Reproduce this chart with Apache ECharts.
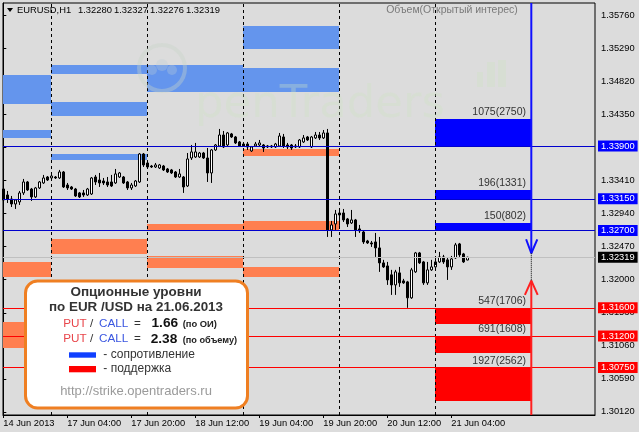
<!DOCTYPE html>
<html><head><meta charset="utf-8">
<script src="https://cdn.jsdelivr.net/npm/echarts@6/dist/echarts.min.js"></script>
<style>html,body{margin:0;padding:0;background:#dcdcdc}#c{width:639px;height:432px}</style>
</head><body><div id="c"></div>
<script>
// ---- Data: EURUSD H1, bar index 0 = 14 Jun 2013 12:00 ----
const opens = [1.33290,1.33205,1.33148,1.33077,1.33106,1.33234,1.33390,1.33290,1.33177,1.33305,
1.33376,1.33461,1.33447,1.33461,1.33447,1.33532,1.33347,1.33319,1.33290,1.33234,
1.33234,1.33205,1.33219,1.33461,1.33418,1.33404,1.33390,1.33390,1.33376,1.33461,
1.33461,1.33390,1.33305,1.33333,1.33390,1.33788,1.33660,1.33617,1.33603,1.33589,
1.33617,1.33575,1.33561,1.33532,1.33461,1.33461,1.33333,1.33731,1.33745,1.33745,
1.33802,1.33731,1.33518,1.33845,1.33902,1.34058,1.33916,1.34073,1.34030,1.33959,
1.33930,1.33930,1.33831,1.33902,1.33916,1.33916,1.33902,1.33902,1.33888,1.33902,
1.34030,1.33916,1.33916,1.33902,1.33888,1.33959,1.34030,1.33888,1.34016,1.34058,
1.34016,1.34087,1.32708,1.32793,1.32949,1.32949,1.32864,1.32807,1.32850,1.32722,
1.32679,1.32551,1.32523,1.32537,1.32452,1.32239,1.32196,1.32069,1.31926,1.32097,
1.31983,1.31969,1.31742,1.32111,1.32381,1.32253,1.31955,1.32140,1.32182,1.32253,
1.32324,1.32282,1.32182,1.32310,1.32509,1.32367,1.32280];
const closes = [1.33134,1.33148,1.33077,1.33134,1.33234,1.33390,1.33276,1.33177,1.33305,1.33390,
1.33447,1.33418,1.33475,1.33447,1.33532,1.33319,1.33305,1.33290,1.33191,1.33177,
1.33205,1.33290,1.33447,1.33390,1.33376,1.33376,1.33347,1.33333,1.33504,1.33518,
1.33376,1.33305,1.33347,1.33404,1.33788,1.33632,1.33603,1.33603,1.33632,1.33632,
1.33561,1.33532,1.33518,1.33461,1.33504,1.33319,1.33717,1.33817,1.33817,1.33802,
1.33731,1.33518,1.33845,1.33916,1.34058,1.33888,1.34087,1.34030,1.33945,1.33902,
1.33902,1.33888,1.33888,1.33930,1.33945,1.33873,1.33888,1.33888,1.33930,1.34044,
1.33902,1.33888,1.33873,1.33888,1.33987,1.34016,1.33987,1.34030,1.34058,1.34016,
1.34087,1.32708,1.32779,1.32935,1.32921,1.32850,1.32793,1.32850,1.32708,1.32694,
1.32537,1.32523,1.32509,1.32452,1.32239,1.32182,1.31997,1.31926,1.32111,1.31955,
1.31955,1.31742,1.32140,1.32381,1.32239,1.31955,1.32140,1.32182,1.32253,1.32324,
1.32253,1.32182,1.32296,1.32495,1.32353,1.32253,1.32319];
const lows = [1.33091,1.33091,1.33034,1.33006,1.33063,1.33205,1.33262,1.33120,1.33162,1.33290,
1.33362,1.33404,1.33433,1.33433,1.33433,1.33305,1.33276,1.33276,1.33177,1.33162,
1.33177,1.33191,1.33205,1.33347,1.33319,1.33347,1.33319,1.33319,1.33362,1.33447,
1.33362,1.33276,1.33276,1.33319,1.33376,1.33603,1.33589,1.33589,1.33589,1.33575,
1.33546,1.33518,1.33504,1.33447,1.33447,1.33234,1.33319,1.33703,1.33731,1.33731,
1.33717,1.33390,1.33376,1.33831,1.33888,1.33873,1.33902,1.34016,1.33930,1.33888,
1.33888,1.33845,1.33817,1.33888,1.33888,1.33817,1.33873,1.33873,1.33873,1.33888,
1.33873,1.33859,1.33845,1.33873,1.33873,1.33945,1.33973,1.33873,1.34001,1.33987,
1.34001,1.32608,1.32608,1.32708,1.32765,1.32821,1.32750,1.32793,1.32608,1.32665,
1.32509,1.32509,1.32466,1.32324,1.32111,1.32168,1.31926,1.31784,1.31784,1.31898,
1.31941,1.31600,1.31728,1.32097,1.32225,1.31926,1.31926,1.32125,1.32168,1.32239,
1.32225,1.31997,1.32140,1.32296,1.32324,1.32239,1.32276];
const highs = [1.33319,1.33262,1.33191,1.33148,1.33262,1.33433,1.33404,1.33305,1.33319,1.33404,
1.33490,1.33475,1.33490,1.33475,1.33561,1.33546,1.33376,1.33333,1.33305,1.33248,
1.33276,1.33305,1.33461,1.33490,1.33518,1.33447,1.33461,1.33490,1.33575,1.33532,
1.33475,1.33404,1.33376,1.33418,1.33802,1.33802,1.33674,1.33632,1.33660,1.33646,
1.33632,1.33589,1.33575,1.33546,1.33575,1.33475,1.33802,1.33916,1.33945,1.33817,
1.33817,1.33873,1.33859,1.33930,1.34144,1.34115,1.34101,1.34087,1.34044,1.33973,
1.33945,1.33959,1.33902,1.33959,1.33987,1.33930,1.33916,1.33916,1.33945,1.34087,
1.34073,1.33945,1.33930,1.33930,1.34001,1.34058,1.34044,1.34044,1.34101,1.34101,
1.34129,1.34144,1.32836,1.32992,1.32978,1.33006,1.32878,1.32992,1.32864,1.32779,
1.32694,1.32566,1.32551,1.32665,1.32608,1.32282,1.32253,1.32140,1.32140,1.32182,
1.32012,1.31983,1.32168,1.32395,1.32395,1.32267,1.32253,1.32282,1.32324,1.32395,
1.32353,1.32310,1.32338,1.32523,1.32523,1.32381,1.32327];

const xTickIdx = [0, 16, 32, 48, 64, 80, 96, 112];
const xTickLabels = ['14 Jun 2013','17 Jun 04:00','17 Jun 20:00','18 Jun 12:00','19 Jun 04:00','19 Jun 20:00','20 Jun 12:00','21 Jun 04:00'];
const daySeparators = [12, 36, 60, 84, 108];
const yTicks = [1.30120,1.30590,1.31060,1.31530,1.32000,1.32470,1.32940,1.33410,1.33880,1.34350,1.34820,1.35290,1.35760];

const X_MIN = -0.075, X_MAX = 147.925;
const Y_MIN = 1.30076, Y_MAX = 1.35935;

// previous days' option zones: [fromBar, toBar, low, high]
const pastResistanceZones = [
  [X_MIN, 12, 1.34503, 1.34911], [X_MIN, 12, 1.34020, 1.34129],
  [12, 36, 1.34930, 1.35053], [12, 36, 1.34332, 1.34527], [12, 36, 1.33703, 1.33788],
  [36, 60, 1.34665, 1.35053],
  [60, 84, 1.35285, 1.35608], [60, 84, 1.34665, 1.35006]
];
const pastSupportZones = [
  [X_MIN, 12, 1.32045, 1.32258], [X_MIN, 12, 1.31026, 1.31404],
  [12, 36, 1.32371, 1.32580],
  [36, 60, 1.32694, 1.32793], [36, 60, 1.32172, 1.32338],
  [60, 84, 1.33760, 1.33859], [60, 84, 1.32708, 1.32836], [60, 84, 1.32045, 1.32182]
];
// today's (21.06.2013) option levels
const TODAY_FROM = 108, TODAY_TO = 132;
const resistanceLevels = [1.33900, 1.33150, 1.32700];
const resistanceTops = [1.34285, 1.33276, 1.32811];
const resistanceLabels = ['1075(2750)', '196(1331)', '150(802)'];
const supportLevels = [1.31600, 1.31200, 1.30750];
const supportBottoms = [1.31370, 1.30962, 1.30280];
const supportLabels = ['547(1706)', '691(1608)', '1927(2562)'];
const currentPrice = 1.32319;
const headerValues = ['1.32280', '1.32327', '1.32276', '1.32319'];
// arrows
const ARROW_X = 132;
const blueArrowTip = 1.32376, redArrowTip = 1.31986;
const blueArrowArms = [[130.7, 1.32575], [ARROW_X, blueArrowTip], [133.5, 1.32575]];
const redArrowArms = [[130.4, 1.31783], [ARROW_X, redArrowTip], [133.6, 1.31783]];

// ---- build ----
const FONT = '"Liberation Sans", Arial, sans-serif';
const candleData = opens.map((o, i) => [i, o, closes[i], lows[i], highs[i]]);
const zoneColors = ['#6495ed', '#ff7f50', '#0000ff', '#ff0000'];
const zoneRows = [], zoneLbls = [];
pastResistanceZones.forEach(z => { zoneRows.push([z[0], z[1], z[2], z[3], 0]); zoneLbls.push(''); });
pastSupportZones.forEach(z => { zoneRows.push([z[0], z[1], z[2], z[3], 1]); zoneLbls.push(''); });
resistanceLevels.forEach((v, i) => { zoneRows.push([TODAY_FROM, TODAY_TO, v, resistanceTops[i], 2]); zoneLbls.push(resistanceLabels[i]); });
supportLevels.forEach((v, i) => { zoneRows.push([TODAY_FROM, TODAY_TO, supportBottoms[i], v, 3]); zoneLbls.push(supportLabels[i]); });

function levelLine(v, lineColor, boxColor) {
  return {
    yAxis: v,
    lineStyle: { color: lineColor, width: 1, type: 'solid' },
    label: { show: true, position: 'end', distance: 3, formatter: v.toFixed(5), color: '#fff',
      backgroundColor: boxColor, padding: [1, 3, 0, 3], fontSize: 9.3, lineHeight: 10, fontFamily: FONT }
  };
}
const markLines = [];
daySeparators.forEach(d => markLines.push({ xAxis: d, lineStyle: { color: '#000', width: 1, type: [3, 3] }, label: { show: false } }));
resistanceLevels.forEach(v => markLines.push(levelLine(v, '#0000cd', '#0000ff')));
supportLevels.forEach(v => markLines.push(levelLine(v, '#ff0000', '#ff0000')));
markLines.push(levelLine(currentPrice, '#c0c0c0', '#000000'));

const T = (text, x, y, font, fill, align) => ({ type: 'text', x, y, z: 101,
  style: { text, font, fill, align: align || 'left', verticalAlign: 'middle' } });

const WM = 'rgba(205,228,195,0.33)';
const graphics = [
  // watermark
  { type: 'circle', shape: { cx: 162, cy: 68, r: 23 }, style: { fill: 'none', stroke: 'rgba(200,212,200,0.38)', lineWidth: 4 }, z: 50 },
  { type: 'circle', shape: { cx: 152, cy: 70, r: 5 }, style: { fill: 'rgba(190,205,215,0.32)' }, z: 50 },
  { type: 'circle', shape: { cx: 162, cy: 65, r: 6 }, style: { fill: 'rgba(190,205,215,0.32)' }, z: 50 },
  { type: 'circle', shape: { cx: 172, cy: 70, r: 5 }, style: { fill: 'rgba(190,205,215,0.32)' }, z: 50 },
  { type: 'text', x: 195, y: 83, z: 50, style: { text: 'penTraders', font: '45px "DejaVu Sans"', fill: WM, verticalAlign: 'alphabetic' } },
  { type: 'rect', shape: { x: 477, y: 72, width: 6, height: 15 }, style: { fill: WM }, z: 50 },
  { type: 'rect', shape: { x: 487, y: 62, width: 8, height: 25 }, style: { fill: WM }, z: 50 },
  { type: 'rect', shape: { x: 498, y: 60, width: 8, height: 27 }, style: { fill: WM }, z: 50 },
  // header
  { type: 'polygon', shape: { points: [[7, 8], [13, 8], [10, 12]] }, style: { fill: '#000' }, z: 101 },
  T('EURUSD,H1', 17, 10.7, '9.4px ' + FONT, '#000'),
  ...headerValues.map((s, i) => T(s, 78 + 36 * i, 10.7, '9.4px ' + FONT, '#000')),
  T('Объем(Открытый интерес)', 452, 10.5, '10.5px ' + FONT, '#7a7a7a', 'center'),
  // info box
  { type: 'rect', shape: { x: 25.5, y: 281, width: 222, height: 127, r: 12 }, style: { fill: '#ffffff', stroke: '#ef7f22', lineWidth: 3 }, z: 100 },
  T('Опционные уровни', 136, 292.5, 'bold 13.5px ' + FONT, '#333', 'center'),
  T('по EUR /USD на 21.06.2013', 136, 307.8, 'bold 13.4px ' + FONT, '#333', 'center'),
  T('PUT', 63.3, 323.5, '11.7px ' + FONT, '#e8454a'),
  T('/', 90, 323.5, '11.7px ' + FONT, '#333'),
  T('CALL', 99, 323.5, '11.7px ' + FONT, '#3a56e0'),
  T('=', 134, 323.5, '11.7px ' + FONT, '#333'),
  T('1.66', 151.5, 323.3, 'bold 13.7px ' + FONT, '#111'),
  T('(по ОИ)', 182.7, 324.3, 'bold 9.4px ' + FONT, '#222'),
  T('PUT', 63.3, 339.2, '11.7px ' + FONT, '#e8454a'),
  T('/', 90, 339.2, '11.7px ' + FONT, '#333'),
  T('CALL', 99, 339.2, '11.7px ' + FONT, '#3a56e0'),
  T('=', 134, 339.2, '11.7px ' + FONT, '#333'),
  T('2.38', 150.7, 339, 'bold 13.7px ' + FONT, '#111'),
  T('(по объему)', 182.7, 340, 'bold 9.2px ' + FONT, '#222'),
  { type: 'rect', shape: { x: 69, y: 352.3, width: 27, height: 5.4 }, style: { fill: '#1040ff' }, z: 101 },
  T('- сопротивление', 103.3, 355, '12px ' + FONT, '#333'),
  { type: 'rect', shape: { x: 69, y: 366, width: 27, height: 6.3 }, style: { fill: '#ff0000' }, z: 101 },
  T('- поддержка', 103.3, 369, '12px ' + FONT, '#333'),
  T('http://strike.opentraders.ru', 136, 391, '13px ' + FONT, '#9a9a9a', 'center')
];

const chart = echarts.init(document.getElementById('c'), null, { renderer: 'canvas' });
chart.setOption({
  animation: false,
  backgroundColor: '#dcdcdc',
  grid: { left: 3, right: 44, top: 3, bottom: 17, show: true, borderColor: '#000', borderWidth: 1, containLabel: false, outerBoundsMode: 'none' },
  xAxis: {
    type: 'value', min: X_MIN, max: X_MAX,
    axisLine: { show: true, lineStyle: { color: '#000', width: 1 } },
    axisTick: { show: true, customValues: xTickIdx, length: 3, lineStyle: { color: '#000' } },
    axisLabel: { show: true, customValues: xTickIdx, align: 'left', margin: 4, color: '#000', fontSize: 9.3, fontFamily: FONT,
      formatter: v => xTickLabels[xTickIdx.indexOf(Math.round(v))] || '' },
    splitLine: { show: false }
  },
  yAxis: {
    type: 'value', position: 'right', min: Y_MIN, max: Y_MAX, scale: true,
    axisLine: { show: true, lineStyle: { color: '#000', width: 1 } },
    axisTick: { show: true, customValues: yTicks, length: 3, lineStyle: { color: '#000' } },
    axisLabel: { show: true, customValues: yTicks, margin: 6, color: '#000', fontSize: 9.3, fontFamily: FONT,
      formatter: v => v.toFixed(5) },
    splitLine: { show: false }
  },
  graphic: { elements: graphics },
  series: [
    {
      type: 'custom', name: 'zones', z: 1, silent: true, clip: true,
      data: zoneRows,
      renderItem: (params, api) => {
        const a = api.coord([api.value(0), api.value(3)]);
        const b = api.coord([api.value(1), api.value(2)]);
        const x1 = Math.round(a[0]), y1 = Math.round(a[1]), x2 = Math.round(b[0]), y2 = Math.round(b[1]);
        const children = [{ type: 'rect', shape: { x: x1, y: y1, width: x2 - x1, height: y2 - y1 },
          style: { fill: zoneColors[api.value(4)] } }];
        const lbl = zoneLbls[params.dataIndex];
        if (lbl) children.push({ type: 'text', x: x2 - 5, y: y1 - 1.5,
          style: { text: lbl, align: 'right', verticalAlign: 'bottom', fill: '#333', font: '10.5px ' + FONT } });
        return { type: 'group', children };
      }
    },
    {
      type: 'candlestick', name: 'EURUSD', z: 2, silent: true,
      data: candleData, encode: { x: 0, y: [1, 2, 3, 4] },
      barWidth: 2,
      itemStyle: { color: '#ffffff', color0: '#000000', borderColor: '#000000', borderColor0: '#000000', borderWidth: 1 },
      markLine: { silent: true, symbol: ['none', 'none'], precision: 5, animation: false, data: markLines }
    },
    { type: 'line', z: 6, silent: true, symbol: 'none', data: [[ARROW_X, Y_MAX], [ARROW_X, blueArrowTip]], lineStyle: { color: '#1010ff', width: 2 } },
    { type: 'line', z: 6, silent: true, symbol: 'none', data: blueArrowArms, lineStyle: { color: '#1010ff', width: 2 } },
    { type: 'line', z: 6, silent: true, symbol: 'none', data: [[ARROW_X, Y_MIN], [ARROW_X, redArrowTip]], lineStyle: { color: '#ff2020', width: 2 } },
    { type: 'line', z: 6, silent: true, symbol: 'none', data: redArrowArms, lineStyle: { color: '#ff2020', width: 2 } },
    { type: 'line', z: 6, silent: true, symbol: 'none', data: [[ARROW_X, blueArrowTip], [ARROW_X, redArrowTip]], lineStyle: { color: '#000', width: 1, type: 'dotted' } }
  ]
});
</script></body></html>
